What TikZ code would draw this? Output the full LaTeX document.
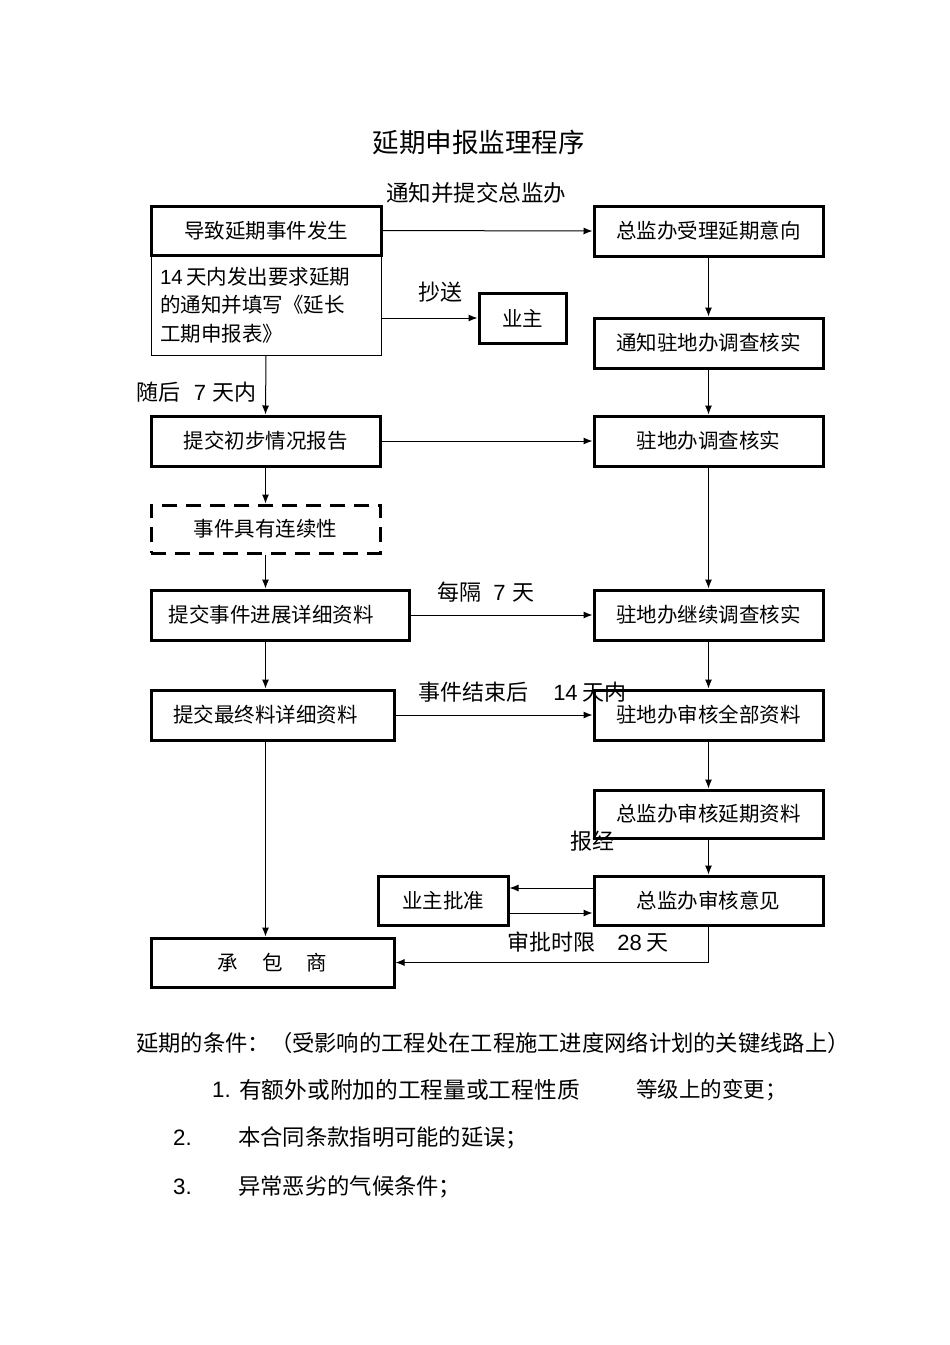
\documentclass[tikz,border=0pt]{standalone}
\usepackage{fontspec}
\setmainfont{Noto Sans CJK SC}
\newfontfamily\lat{Liberation Sans}
\usetikzlibrary{arrows.meta}
\begin{document}
\begin{tikzpicture}[x=1pt,y=-1pt,
  box/.style={draw, line width=3pt, minimum height=50pt, inner sep=0pt,
    font=\fontsize{20.5}{24}\selectfont},
  thinbox/.style={draw, line width=0.9pt, inner sep=0pt,
    font=\fontsize{20.5}{28.5}\selectfont},
  dashbox/.style={box, dash pattern=on 15pt off 9pt},
  conn/.style={line width=1pt, -{Latex[length=9pt,width=7pt]}},
  lab/.style={font=\fontsize{22}{26}\selectfont, inner sep=0pt},
  note/.style={font=\fontsize{22.3}{26}\selectfont, inner sep=0pt, anchor=west}]
\useasboundingbox (0,0) rectangle (950,1345);
\fill[white] (0,0) rectangle (950,1345);

% title
\node[font=\fontsize{26.5}{30}\selectfont, inner sep=0pt] (title) at (478.5,142) {延期申报监理程序};

% left column
\node[thinbox, minimum width=230pt, minimum height=100pt, text width=212pt, align=left] (b) at (266,305)
  {{\lat 14}\,天内发出要求延期\\的通知并填写《延长\\工期申报表》};
\node[box, minimum width=230pt, minimum height=49pt] (a) at (266,230.5) {导致延期事件发生};
\node[box, minimum width=229pt] (e) at (265.5,441) {提交初步情况报告};
\node[dashbox, minimum width=229pt, minimum height=48pt] (g) at (265.5,529) {事件具有连续性};
\node[box, minimum width=258pt] (h) at (280,615) {\hspace*{-4pt}提交事件进展详细资料\hspace*{14pt}};
\node[box, minimum width=243pt] (j) at (272.5,715) {提交最终料详细资料\hspace*{14pt}};
\node[box, minimum width=243pt, minimum height=49pt] (o) at (272.5,962.5) {承\hspace{24pt}包\hspace{24pt}商};

% owner boxes
\node[box, minimum width=87pt] (owner) at (522.5,318) {业主};
\node[box, minimum width=130pt, minimum height=49pt] (n) at (443,900.5) {业主批准};

% right column
\node[box, minimum width=229pt] (c) at (708.5,231) {总监办受理延期意向};
\node[box, minimum width=229pt] (d) at (708.5,343) {通知驻地办调查核实};
\node[box, minimum width=229pt] (f) at (708.5,441) {驻地办调查核实};
\node[box, minimum width=229pt] (i) at (708.5,615) {驻地办继续调查核实};
\node[box, minimum width=229pt] (k) at (708.5,715) {驻地办审核全部资料};
\node[box, minimum width=229pt, minimum height=48pt] (l) at (708.5,814) {总监办审核延期资料};
\node[box, minimum width=229pt, minimum height=49pt] (m) at (708.5,900.5) {总监办审核意见};

% connector labels
\node[lab, font=\fontsize{22.5}{26}\selectfont] (l1) at (476,193) {通知并提交总监办};
\node[lab] (l2) at (440,292) {抄送};
\node[lab] (l3) at (196.5,392) {随后\hspace{13pt}{\lat 7}\hspace{6pt}天内};
\node[lab] (l4) at (486,592) {每隔\hspace{12pt}{\lat 7}\hspace{7pt}天};
\node[lab] (l5) at (522.5,692) {事件结束后\hspace{25pt}{\lat 14}\hspace{5pt}天内};
\node[lab] (l6) at (592,841) {报经};
\node[lab] (l7) at (588,942) {审批时限\hspace{22pt}{\lat 28}\hspace{5pt}天};

% connectors
\draw[conn] (a.east) -- (c.west);
\draw[conn] (owner.west -| b.east) -- (owner.west);
\draw[conn] (b.south) -- (e.north);
\draw[conn] (e.east) -- (f.west);
\draw[conn] (e.south) -- (g.north);
\draw[conn] (g.south) -- (g.south |- h.north);
\draw[conn] (h.east) -- (i.west);
\draw[conn] (g.south |- h.south) -- (g.south |- j.north);
\draw[conn] (j.east) -- (k.west);
\draw[conn] (g.south |- j.south) -- (g.south |- o.north);
\draw[conn] (c.south) -- (d.north);
\draw[conn] (d.south) -- (f.north);
\draw[conn] (f.south) -- (i.north);
\draw[conn] (i.south) -- (k.north);
\draw[conn] (k.south) -- (l.north);
\draw[conn] (l.south) -- (m.north);
\draw[conn] ([yshift=12.5pt]m.west) -- ([yshift=12.5pt]n.east);
\draw[conn] ([yshift=-12.5pt]n.east) -- ([yshift=-12.5pt]m.west);
\draw[conn] (m.south) -- (m.south |- o.east) -- (o.east);

% conditions
\node[note] (c0) at (136,1043) {延期的条件：（受影响的工程处在工程施工进度网络计划的关键线路上）};
\node[note] (n1) at (212,1090) {\lat 1.};
\node[note, font=\fontsize{22.7}{26}\selectfont] (t1a) at (239,1090) {有额外或附加的工程量或工程性质};
\node[note, font=\fontsize{21.5}{26}\selectfont] (t1b) at (636,1090) {等级上的变更；};
\node[note] (n2) at (173,1138) {\lat 2.};
\node[note] (t2) at (238,1138) {本合同条款指明可能的延误；};
\node[note] (n3) at (173,1187) {\lat 3.};
\node[note] (t3) at (238,1187) {异常恶劣的气候条件；};
\end{tikzpicture}
\end{document}
